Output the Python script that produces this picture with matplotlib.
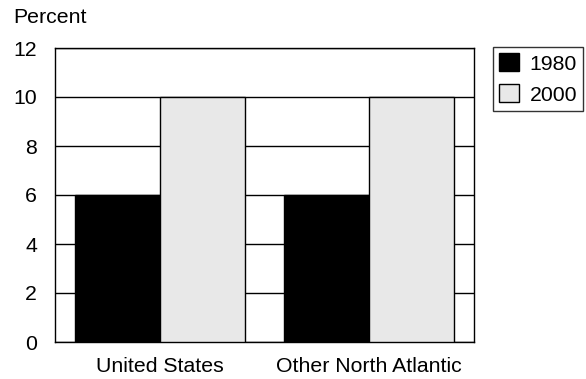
import matplotlib
matplotlib.use("Agg")
import matplotlib.pyplot as plt
import numpy as np

categories = ["United States", "Other North Atlantic"]
years = ["1980", "2000"]
values_1980 = [6, 6]
values_2000 = [10, 10]
y_ticks = [0, 2, 4, 6, 8, 10, 12]

plt.rcParams["font.family"] = ["Liberation Sans", "DejaVu Sans"]
plt.rcParams["font.size"] = 15.3

W, H = 586, 379
fig = plt.figure(figsize=(W / 100, H / 100), dpi=100)
ax = fig.add_axes([55 / W, 1 - 342 / H, (474 - 55) / W, (342 - 48) / H])

x = np.arange(len(categories))
width = 0.405
ax.bar(x - width / 2, values_1980, width, color="black", edgecolor="black",
       linewidth=1, label=years[0], zorder=3)
ax.bar(x + width / 2, values_2000, width, color="#e8e8e8", edgecolor="black",
       linewidth=1, label=years[1], zorder=3)

ax.set_xlim(-0.5, 1.5)
ax.set_ylim(0, 12)
ax.set_yticks(y_ticks)
ax.set_xticks(x)
ax.set_xticklabels(categories)
ax.tick_params(axis="both", length=0)
ax.tick_params(axis="y", pad=13)
ax.tick_params(axis="x", pad=11)
ax.yaxis.grid(True, color="black", linewidth=1)
ax.set_axisbelow(True)
for s in ax.spines.values():
    s.set_color("black")
    s.set_linewidth(1)

fig.text(13 / W, 1 - 8 / H, "Percent", ha="left", va="top")

leg = fig.legend(loc="upper left", bbox_to_anchor=(493 / W, 1 - 47 / H),
                 frameon=True, fancybox=False, edgecolor="black",
                 handlelength=0.92, handleheight=0.92, handletextpad=0.5,
                 borderpad=0.3, labelspacing=0.5, borderaxespad=0)
leg.get_frame().set_linewidth(1)

fig.savefig("out.png", dpi=100)
